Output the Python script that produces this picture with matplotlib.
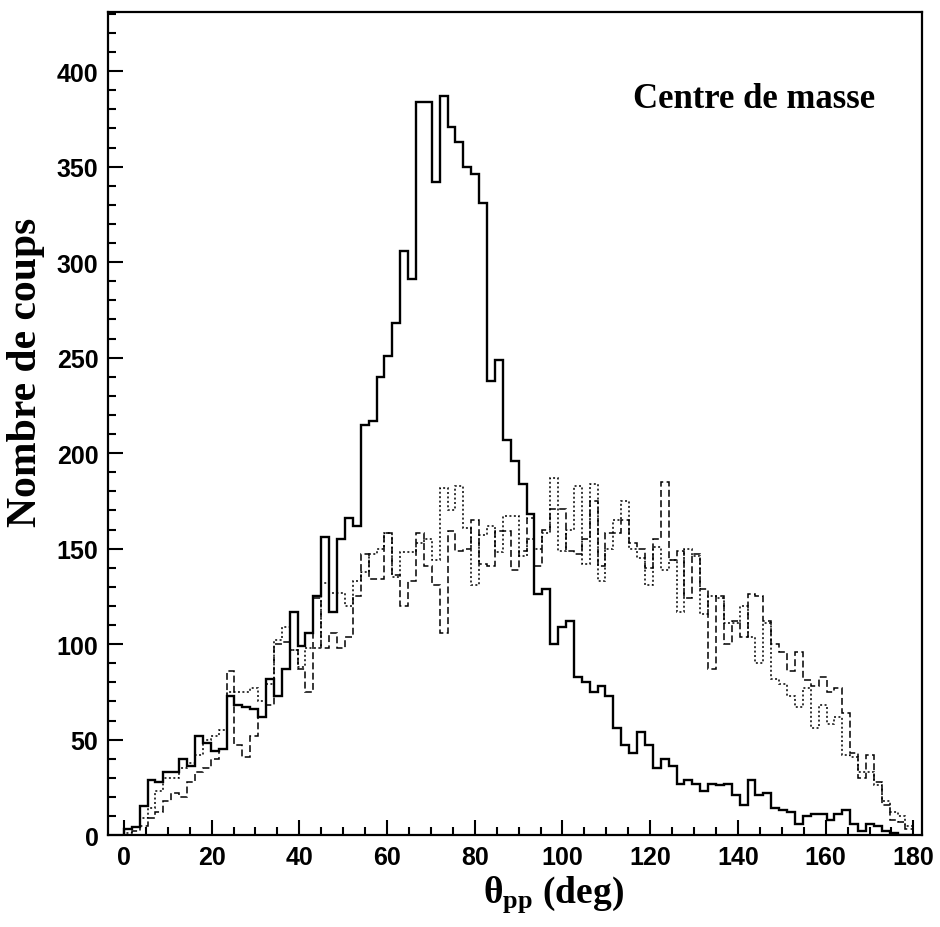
import numpy as np
import matplotlib
matplotlib.use("Agg")
import matplotlib.pyplot as plt
from matplotlib.ticker import MultipleLocator

plt.rcParams["mathtext.fontset"] = "custom"
plt.rcParams["mathtext.rm"] = "Liberation Serif:bold"
plt.rcParams["mathtext.it"] = "Liberation Serif:bold"
plt.rcParams["mathtext.bf"] = "Liberation Serif:bold"

# histogram bins: 100 bins of 1.8 deg between 0 and 180
bin_lo = 0.0
bin_hi = 180.0
n_bins = 100

# solid line
counts_solid = [3, 4, 15, 29, 28, 33, 33, 40, 36, 52,
                48, 44, 45, 73, 68, 67, 66, 62, 82, 73,
                87, 117, 99, 106, 125, 156, 117, 155, 166, 162,
                215, 217, 240, 251, 268, 306, 291, 384, 384, 342,
                387, 371, 363, 350, 346, 331, 238, 249, 207, 196,
                184, 168, 126, 129, 100, 109, 112, 83, 80, 75,
                78, 73, 56, 47, 43, 54, 47, 35, 40, 36,
                27, 29, 27, 23, 27, 26, 27, 21, 16, 29,
                21, 22, 14, 13, 12, 6, 10, 11, 11, 8,
                11, 13, 6, 2, 6, 5, 2, 1, 0, 0]

# dashed line
counts_dash = [0, 2, 5, 9, 12, 18, 22, 20, 28, 33,
               35, 40, 45, 86, 47, 41, 52, 62, 68, 100,
               101, 97, 87, 75, 124, 98, 106, 98, 104, 125,
               147, 134, 134, 158, 136, 120, 133, 158, 141, 131,
               106, 159, 149, 150, 165, 142, 141, 159, 159, 139,
               149, 166, 141, 160, 171, 171, 149, 147, 155, 175,
               141, 158, 158, 165, 153, 150, 140, 155, 185, 144,
               149, 124, 147, 129, 87, 125, 100, 112, 104, 126,
               125, 112, 100, 96, 86, 96, 81, 78, 83, 75,
               77, 64, 43, 30, 42, 28, 16, 8, 7, 3]

# dotted line
counts_dot = [1, 4, 9, 14, 23, 30, 30, 35, 38, 42,
              50, 52, 55, 75, 75, 75, 77, 70, 79, 102,
              109, 97, 88, 98, 98, 132, 127, 127, 120, 133,
              138, 147, 150, 158, 135, 148, 148, 153, 155, 144,
              182, 170, 183, 161, 131, 157, 162, 148, 167, 167,
              146, 155, 150, 158, 187, 149, 160, 183, 142, 184,
              133, 150, 165, 175, 150, 145, 131, 151, 139, 144,
              117, 150, 146, 116, 125, 124, 111, 111, 120, 104,
              90, 111, 82, 79, 73, 67, 77, 56, 68, 58,
              62, 42, 41, 33, 33, 26, 18, 12, 10, 5]

x_ticks = [0, 20, 40, 60, 80, 100, 120, 140, 160, 180]
y_ticks = [0, 50, 100, 150, 200, 250, 300, 350, 400]

edges = np.linspace(bin_lo, bin_hi, n_bins + 1)

fig = plt.figure(figsize=(9.4, 9.28), dpi=100)
ax = fig.add_axes([0.115, 0.099, 0.866, 0.887])

ax.stairs(counts_dot, edges, color="black", lw=1.1, linestyle=(0, (1.3, 1.6)))
ax.stairs(counts_dash, edges, color="black", lw=1.1, linestyle=(0, (4.5, 2.2)))
ax.stairs(counts_solid, edges, color="black", lw=1.7)

ax.set_xlim(-3.6, 182)
ax.set_ylim(0, 431)

ax.set_xticks(x_ticks)
ax.set_yticks(y_ticks)
ax.xaxis.set_minor_locator(MultipleLocator(5))
ax.yaxis.set_minor_locator(MultipleLocator(10))
ax.tick_params(which="both", direction="in", top=False, right=False, width=1.5)
ax.tick_params(which="major", length=11, pad=7)
ax.tick_params(which="minor", length=5.5)
for lab in ax.get_xticklabels() + ax.get_yticklabels():
    lab.set_fontfamily("Liberation Sans")
    lab.set_fontweight("bold")
    lab.set_fontsize(18)

for sp in ax.spines.values():
    sp.set_linewidth(1.6)

fig.text(553 / 940, 1 - 895 / 928, r"$\mathrm{\theta_{pp}}$ (deg)",
         fontfamily="Liberation Serif", fontweight="bold", fontsize=27,
         ha="center", va="center")
fig.text(26 / 940, 1 - 372 / 928, "Nombre de coups", rotation=90,
         fontfamily="Liberation Serif", fontweight="bold", fontsize=30,
         ha="center", va="center")
fig.text(754 / 940, 1 - 100 / 928, "Centre de masse",
         fontfamily="Liberation Serif", fontweight="bold", fontsize=25,
         ha="center", va="center")

fig.savefig("out.png", dpi=100)
